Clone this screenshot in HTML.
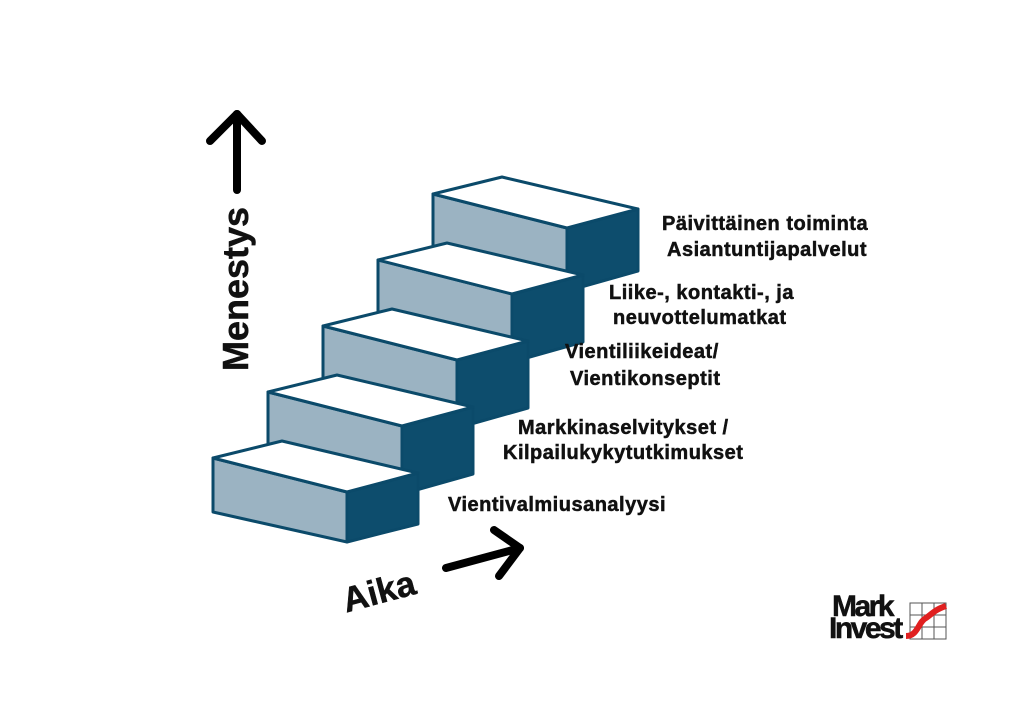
<!DOCTYPE html>
<html><head><meta charset="utf-8"><style>
html,body{margin:0;padding:0;background:#fff}
svg{display:block}
text{font-family:"Liberation Sans",sans-serif;font-weight:bold;fill:#111;stroke:#111;stroke-width:0.5}
</style></head><body>
<svg width="1024" height="724" viewBox="0 0 1024 724" xmlns="http://www.w3.org/2000/svg">
<g stroke="#0b4a6a" stroke-width="3" stroke-linejoin="round">
<g transform="translate(220,-264)">
<polygon points="347,492 418,473 418,535 347,555" fill="#0d4d6d"/>
<polygon points="213,458 347,492 347,555 213,521" fill="#9bb3c2"/>
<polygon points="213,458 347,492 418,473 282,441" fill="#fff"/>
</g>
<g transform="translate(165,-198)">
<polygon points="347,492 418,473 418,540 347,560" fill="#0d4d6d"/>
<polygon points="213,458 347,492 347,560 213,526" fill="#9bb3c2"/>
<polygon points="213,458 347,492 418,473 282,441" fill="#fff"/>
</g>
<g transform="translate(110,-132)">
<polygon points="347,492 418,473 418,540 347,560" fill="#0d4d6d"/>
<polygon points="213,458 347,492 347,560 213,526" fill="#9bb3c2"/>
<polygon points="213,458 347,492 418,473 282,441" fill="#fff"/>
</g>
<g transform="translate(55,-66)">
<polygon points="347,492 418,473 418,540 347,560" fill="#0d4d6d"/>
<polygon points="213,458 347,492 347,560 213,526" fill="#9bb3c2"/>
<polygon points="213,458 347,492 418,473 282,441" fill="#fff"/>
</g>
<g>
<polygon points="347,492 418,473 418,524 347,542" fill="#0d4d6d"/>
<polygon points="213,458 347,492 347,542 213,512" fill="#9bb3c2"/>
<polygon points="213,458 347,492 418,473 282,441" fill="#fff"/>
</g>
</g>
<g stroke="#000" stroke-width="8" stroke-linecap="round" stroke-linejoin="round" fill="none">
<line x1="237" y1="114" x2="237" y2="190"/>
<polyline points="210,141 237,114 262,141"/>
<line x1="446" y1="568" x2="520" y2="548"/>
<polyline points="494,530 520,548 499,576"/>
</g>
<text transform="translate(248,289) rotate(-90)" text-anchor="middle" font-size="36" stroke-width="1">Menestys</text>
<text transform="translate(382,603) rotate(-15)" text-anchor="middle" font-size="35" stroke-width="1">Aika</text>
<g font-size="20" letter-spacing="0.5">
<text x="662" y="230">Päivittäinen toiminta</text>
<text x="667" y="256">Asiantuntijapalvelut</text>
<text x="609" y="299">Liike-, kontakti-, ja</text>
<text x="613" y="324">neuvottelumatkat</text>
<text x="565" y="358">Vientiliikeideat/</text>
<text x="570" y="385">Vientikonseptit</text>
<text x="518" y="434">Markkinaselvitykset /</text>
<text x="503" y="459">Kilpailukykytutkimukset</text>
<text x="448" y="511">Vientivalmiusanalyysi</text>
</g>
<g>
<text x="832" y="616" font-size="30" letter-spacing="-2.5" stroke-width="0.8">Mark</text>
<text x="829" y="638" font-size="30" letter-spacing="-2.5" stroke-width="0.8">Invest</text>
<g stroke="#555" stroke-width="1" fill="none">
<rect x="910" y="603" width="36" height="36"/>
<line x1="922" y1="603" x2="922" y2="639"/><line x1="934" y1="603" x2="934" y2="639"/>
<line x1="910" y1="615" x2="946" y2="615"/><line x1="910" y1="627" x2="946" y2="627"/>
</g>
<path d="M906,636 C918,636 918,622 926,618 C932,614 934,610 946,606" stroke="#e02020" stroke-width="6" fill="none"/>
</g>
</svg>
</body></html>
